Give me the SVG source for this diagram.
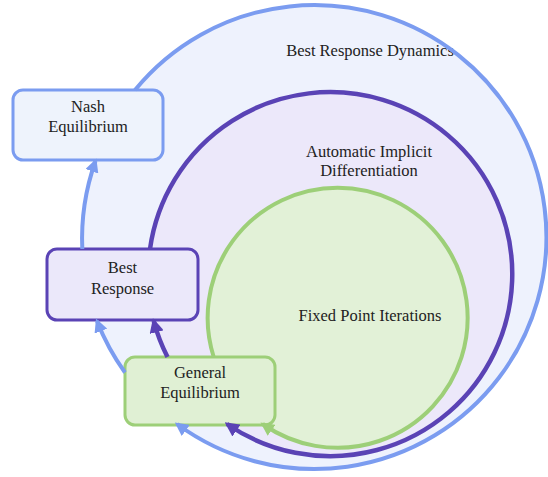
<svg xmlns="http://www.w3.org/2000/svg" width="548" height="477" viewBox="0 0 548 477">
  <defs>
    <marker id="ab" viewBox="0 0 10 10" refX="8" refY="5" markerWidth="3.4" markerHeight="3.4" orient="auto" markerUnits="strokeWidth">
      <path d="M0,0 L10,5 L0,10 z" fill="#7b9cf0"/>
    </marker>
    <marker id="ap" viewBox="0 0 10 10" refX="8" refY="5" markerWidth="3.2" markerHeight="3.2" orient="auto" markerUnits="strokeWidth">
      <path d="M0,0 L10,5 L0,10 z" fill="#5a43b5"/>
    </marker>
    <marker id="ag" viewBox="0 0 10 10" refX="8" refY="5" markerWidth="3.4" markerHeight="3.4" orient="auto" markerUnits="strokeWidth">
      <path d="M0,0 L10,5 L0,10 z" fill="#9dcf78"/>
    </marker>
  </defs>
  <rect x="0" y="0" width="548" height="477" fill="#ffffff"/>

  <g id="best-response-dynamics">
    <circle cx="314" cy="238" r="232" fill="#eef2fd"/>
    <text x="370" y="56" font-family="Liberation Serif" font-size="16.5" fill="#222" text-anchor="middle">Best Response Dynamics</text>
  </g>
  <g id="automatic-implicit-differentiation">
    <circle cx="330" cy="275" r="182" fill="#ece8fa"/>
    <text x="369" y="157" font-family="Liberation Serif" font-size="16.5" fill="#222" text-anchor="middle">Automatic Implicit</text>
    <text x="369" y="176" font-family="Liberation Serif" font-size="16.5" fill="#222" text-anchor="middle">Differentiation</text>
  </g>
  <g id="fixed-point-iterations">
    <circle cx="338" cy="319" r="130" fill="#e2f1d7"/>
    <text x="370" y="321" font-family="Liberation Serif" font-size="16.5" fill="#222" text-anchor="middle">Fixed Point Iterations</text>
  </g>

  <g id="nash-equilibrium">
    <rect x="13" y="90" width="150" height="70" rx="10" fill="#eef3fc" stroke="#7b9cf0" stroke-width="3"/>
    <text x="88" y="112" font-family="Liberation Serif" font-size="16.5" fill="#222" text-anchor="middle">Nash</text>
    <text x="88" y="132" font-family="Liberation Serif" font-size="16.5" fill="#222" text-anchor="middle">Equilibrium</text>
  </g>
  <g id="best-response">
    <rect x="47" y="249" width="151" height="71" rx="10" fill="#ebe8fa" stroke="#5a43b5" stroke-width="3"/>
    <text x="122.5" y="273" font-family="Liberation Serif" font-size="16.5" fill="#222" text-anchor="middle">Best</text>
    <text x="122.5" y="294" font-family="Liberation Serif" font-size="16.5" fill="#222" text-anchor="middle">Response</text>
  </g>
  <g id="general-equilibrium">
    <rect x="125" y="357" width="150" height="68" rx="10" fill="#e0f0d4" stroke="#9dcf78" stroke-width="3"/>
    <text x="200" y="378" font-family="Liberation Serif" font-size="16.5" fill="#222" text-anchor="middle">General</text>
    <text x="200" y="398" font-family="Liberation Serif" font-size="16.5" fill="#222" text-anchor="middle">Equilibrium</text>
  </g>

  <g id="connectors" fill="none">
    <path d="M135,90 A232,232 0 1 1 177,424" stroke="#7b9cf0" stroke-width="4" marker-end="url(#ab)"/>
    <path d="M125,372.5 A232,232 0 0 1 97,321" stroke="#7b9cf0" stroke-width="4" marker-end="url(#ab)"/>
    <path d="M82.3,249 A232,232 0 0 1 95.5,161" stroke="#7b9cf0" stroke-width="4" marker-end="url(#ab)"/>
    <path d="M150,249 A182,182 0 1 1 227,424" stroke="#5a43b5" stroke-width="4.5" marker-end="url(#ap)"/>
    <path d="M167.5,357 A182,182 0 0 1 153.7,321" stroke="#5a43b5" stroke-width="4.5" marker-end="url(#ap)"/>
    <path d="M213.7,357 A130,130 0 1 1 262.7,424" stroke="#9dcf78" stroke-width="4" marker-end="url(#ag)"/>
  </g>
</svg>
